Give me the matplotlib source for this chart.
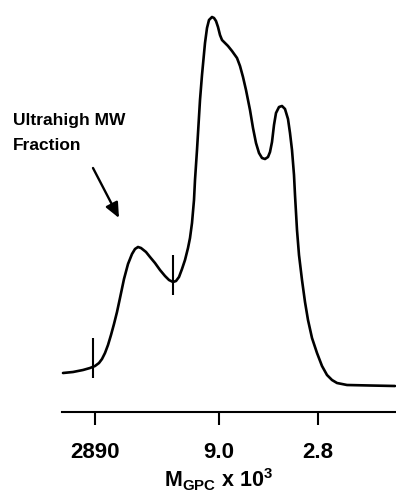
import matplotlib
matplotlib.use("Agg")
import matplotlib.pyplot as plt

plt.rcParams['font.family'] = ['Liberation Sans', 'DejaVu Sans']
plt.rcParams['mathtext.fontset'] = 'custom'
plt.rcParams['mathtext.rm'] = 'Liberation Sans:bold'
plt.rcParams['mathtext.bf'] = 'Liberation Sans:bold'
plt.rcParams['mathtext.it'] = 'Liberation Sans:bold'

# GPC trace (elution position, detector response)
elution = [63, 73, 83, 90, 95, 99, 102, 105, 108, 111, 114, 117, 120, 124, 128,
           132, 135, 138, 141, 146, 150, 155, 160, 165, 169, 173, 176, 179, 182,
           185, 188, 190, 192, 194, 195, 197, 200, 202, 205, 207, 209, 212, 214,
           216, 218, 220, 222, 225, 228, 232, 237, 240, 243, 246, 250, 253, 256,
           259, 262, 265, 268, 270, 272, 274, 276, 279, 282, 285, 288, 290, 292,
           294, 295, 297, 299, 302, 305, 308, 312, 317, 322, 327, 332, 337, 347,
           370, 395]
trace_px = [373, 372, 370, 368, 366, 363, 359, 353, 345, 335, 324, 312, 298, 279,
            264, 254, 249, 247, 248, 252, 257, 263, 270, 276, 280, 282, 281, 277,
            269, 260, 248, 238, 223, 200, 180, 150, 100, 75, 43, 28, 20, 17, 18,
            21, 27, 35, 40, 43, 46, 51, 58, 66, 77, 90, 110, 128, 143, 153, 158,
            159, 157, 152, 142, 125, 113, 107, 106, 109, 119, 133, 150, 175, 195,
            230, 255, 280, 302, 320, 338, 353, 366, 375, 380, 383, 385, 385.5, 386]
response = [386 - v for v in trace_px]

# cut marks on the trace
cut_x = [93, 173]
cut_lo = [8, 91]
cut_hi = [48, 131]

# molecular weight axis
tick_pos = [95, 219, 318]
tick_labels = ["2890", "9.0", "2.8"]

fig = plt.figure(figsize=(3.96, 5.01), dpi=100)
ax = fig.add_axes([0, 0, 1, 1])
ax.set_xlim(0, 396)
ax.set_ylim(-115, 386)

ax.plot(elution, response, color="black", lw=1.9, solid_capstyle="round",
        solid_joinstyle="round")
ax.vlines(cut_x, cut_lo, cut_hi, color="black", lw=1.5)

for s in ["top", "left", "right"]:
    ax.spines[s].set_visible(False)
ax.spines["bottom"].set_position(("data", -26))
ax.spines["bottom"].set_bounds(62, 396)
ax.spines["bottom"].set_linewidth(1.5)
ax.set_yticks([])
ax.set_xticks(tick_pos)
ax.set_xticklabels(tick_labels, fontsize=16, fontweight="bold")
ax.tick_params(axis="x", direction="out", length=9.5, width=1.5, pad=12)

ax.text(219, -94, r"$\mathrm{M_{GPC}}$ x 10$^{3}$", ha="center", va="center",
        fontsize=15.5, fontweight="bold")

ax.text(13, 266, "Ultrahigh MW", fontsize=12.5, fontweight="bold", va="center")
ax.text(13, 241, "Fraction", fontsize=12.5, fontweight="bold", va="center")
ax.annotate("", xy=(119, 168), xytext=(93, 218),
            arrowprops=dict(arrowstyle="-|>,head_length=0.9,head_width=0.4",
                            color="black", lw=1.7, shrinkA=0, shrinkB=0))

fig.savefig("out.png", dpi=100)
